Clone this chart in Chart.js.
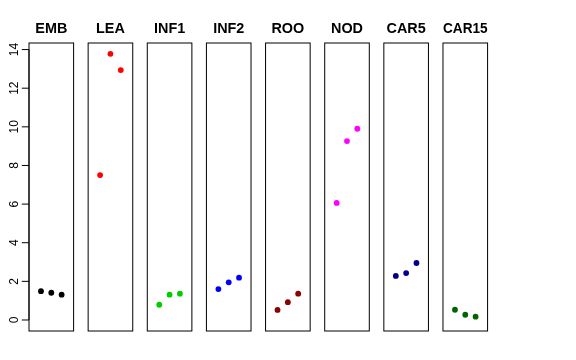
<!DOCTYPE html>
<html>
<head>
<meta charset="utf-8">
<script src="https://cdn.jsdelivr.net/npm/chart.js@4/dist/chart.umd.min.js"></script>
<style>
  html, body { margin: 0; padding: 0; background: #ffffff; }
  #wrap { position: relative; width: 576px; height: 360px; background: #ffffff; overflow: hidden; }
  #wrap canvas { position: absolute; left: 0; top: 0; }
</style>
</head>
<body>
<div id="wrap"></div>
<script>
// ---- data ----
const categories = ['EMB', 'LEA', 'INF1', 'INF2', 'ROO', 'NOD', 'CAR5', 'CAR15'];
const timePoints = [1, 2, 3];
const valuesEMB   = [1.49, 1.41, 1.31];
const valuesLEA   = [7.50, 13.78, 12.94];
const valuesINF1  = [0.79, 1.31, 1.36];
const valuesINF2  = [1.60, 1.95, 2.19];
const valuesROO   = [0.52, 0.92, 1.36];
const valuesNOD   = [6.06, 9.26, 9.90];
const valuesCAR5  = [2.28, 2.43, 2.95];
const valuesCAR15 = [0.53, 0.27, 0.17];
const yTickValues = [0, 2, 4, 6, 8, 10, 12, 14];
const yTickLabels = ['0', '2', '4', '6', '8', '10', '12', '14'];

const seriesValues = [valuesEMB, valuesLEA, valuesINF1, valuesINF2, valuesROO, valuesNOD, valuesCAR5, valuesCAR15];
const seriesColors = ['#000000', '#FF0000', '#00CD00', '#0000FF', '#8B0000', '#FF00FF', '#00008B', '#006400'];

// ---- layout (styles/positions) ----
const W = 576, H = 360;
const FONT = '"Liberation Sans", Arial, Helvetica, sans-serif';
const panelLeft0 = 29, panelPitch = 59.14, panelWidth = 44.6;
const plotTop = 43, plotBottom = 331;
const titleSize = 14.4, titleLH = 1.2, titlePadTop = 1, titlePadBottom = 5;
const titleBlock = titleSize * titleLH + titlePadTop + titlePadBottom;

const framePlugin = {
  id: 'frame',
  afterDatasetsDraw(chart) {
    const a = chart.chartArea, ctx = chart.ctx;
    ctx.save();
    ctx.strokeStyle = '#000000';
    ctx.lineWidth = 1;
    ctx.strokeRect(a.left, a.top, a.right - a.left, a.bottom - a.top);
    ctx.restore();
  }
};

const yAxisPlugin = {
  id: 'rAxis',
  afterDraw(chart, args, opts) {
    if (!opts || !opts.show) return;
    const ctx = chart.ctx, ys = chart.scales.y, a = chart.chartArea;
    const x0 = a.left;
    ctx.save();
    ctx.strokeStyle = '#000000';
    ctx.lineWidth = 1;
    ctx.beginPath();
    ctx.moveTo(x0, ys.getPixelForValue(yTickValues[0]));
    ctx.lineTo(x0, ys.getPixelForValue(yTickValues[yTickValues.length - 1]));
    yTickValues.forEach(v => {
      const py = ys.getPixelForValue(v);
      ctx.moveTo(x0 - 7.2, py);
      ctx.lineTo(x0, py);
    });
    ctx.stroke();
    ctx.fillStyle = '#000000';
    ctx.font = '12px ' + FONT;
    ctx.textAlign = 'center';
    ctx.textBaseline = 'alphabetic';
    yTickValues.forEach((v, i) => {
      const py = ys.getPixelForValue(v);
      ctx.save();
      ctx.translate(x0 - 10.6, py);
      ctx.rotate(-Math.PI / 2);
      ctx.fillText(yTickLabels[i], 0, 0);
      ctx.restore();
    });
    ctx.restore();
  }
};

const wrap = document.getElementById('wrap');
categories.forEach((cat, k) => {
  const canvas = document.createElement('canvas');
  canvas.width = W; canvas.height = H;
  canvas.style.width = W + 'px'; canvas.style.height = H + 'px';
  wrap.appendChild(canvas);
  const left = panelLeft0 + k * panelPitch;
  new Chart(canvas, {
    type: 'scatter',
    data: {
      datasets: [{
        label: cat,
        data: timePoints.map((t, i) => ({ x: t, y: seriesValues[k][i] })),
        backgroundColor: seriesColors[k],
        borderColor: seriesColors[k],
        borderWidth: 0,
        pointRadius: 2.9,
        pointHoverRadius: 2.9,
        clip: false
      }]
    },
    options: {
      responsive: false,
      animation: false,
      events: [],
      layout: {
        padding: {
          left: left,
          right: W - left - panelWidth,
          top: plotTop - titleBlock,
          bottom: H - plotBottom
        }
      },
      plugins: {
        legend: { display: false },
        tooltip: { enabled: false },
        title: {
          display: true,
          text: cat,
          color: '#000000',
          font: { family: FONT, size: titleSize, weight: 'bold', lineHeight: titleLH },
          padding: { top: titlePadTop, bottom: titlePadBottom }
        },
        rAxis: { show: k === 0 }
      },
      scales: {
        x: { type: 'linear', min: -0.16, max: 4.16, display: false },
        y: { type: 'linear', min: -0.57, max: 14.34, display: false }
      }
    },
    plugins: [framePlugin, yAxisPlugin]
  });
});
</script>
</body>
</html>
